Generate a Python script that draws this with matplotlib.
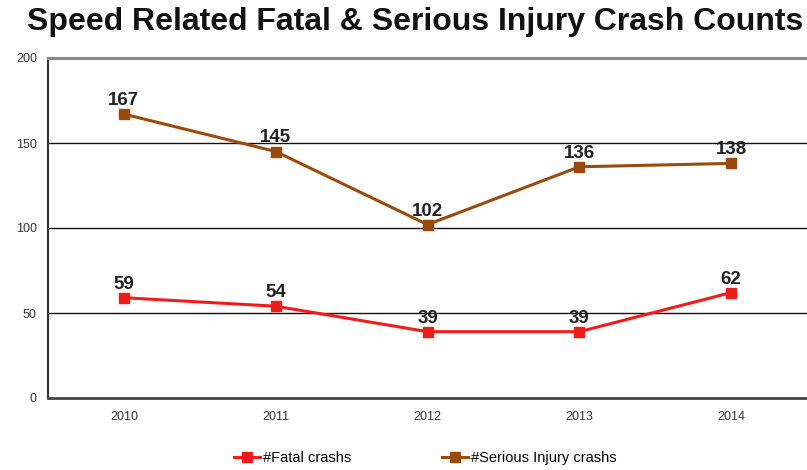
import matplotlib
matplotlib.use("Agg")
import matplotlib.pyplot as plt

years = ["2010", "2011", "2012", "2013", "2014"]
fatal = [59, 54, 39, 39, 62]
serious = [167, 145, 102, 136, 138]
y_ticks = [0, 50, 100, 150, 200]

FATAL_COLOR = "#f01c1c"
SERIOUS_COLOR = "#9a4a0c"

plt.rcParams["font.family"] = ["Liberation Sans", "DejaVu Sans"]

fig = plt.figure(figsize=(8.07, 4.70), dpi=100)
ax = fig.add_axes([48 / 807, 72 / 470, 759 / 807, 340 / 470])

xs = list(range(len(years)))
ax.plot(xs, fatal, color=FATAL_COLOR, linewidth=2.2, marker="s", markersize=7.5,
        label="#Fatal crashs", zorder=3)
ax.plot(xs, serious, color=SERIOUS_COLOR, linewidth=2.2, marker="s", markersize=7.5,
        label="#Serious Injury crashs", zorder=3)

for x, v in zip(xs, fatal):
    ax.text(x, v + 3, str(v), ha="center", va="bottom", fontsize=13.5,
            fontweight="bold", color="#222222", zorder=4)
for x, v in zip(xs, serious):
    ax.text(x, v + 3, str(v), ha="center", va="bottom", fontsize=13.5,
            fontweight="bold", color="#222222", zorder=4)

ax.set_xlim(-0.5, len(years) - 0.5)
ax.set_ylim(0, 200)
ax.set_yticks(y_ticks)
ax.set_xticks(xs)
ax.set_xticklabels(years)
ax.tick_params(axis="both", length=0, labelsize=9, colors="#333333")
ax.tick_params(axis="x", pad=9)
ax.tick_params(axis="y", pad=8)

for t in y_ticks[1:-1]:
    ax.axhline(t, color="#111111", linewidth=1.0, zorder=1)

ax.spines["top"].set_color("#888888")
ax.spines["top"].set_linewidth(2.2)
ax.spines["right"].set_visible(False)
ax.spines["left"].set_color("#333333")
ax.spines["left"].set_linewidth(1.5)
ax.spines["bottom"].set_color("#444444")
ax.spines["bottom"].set_linewidth(2)

fig.text(0.515, 0.953, "Speed Related Fatal & Serious Injury Crash Counts",
         ha="center", va="center", fontsize=23, fontweight="bold", color="#111111")

fig.legend(loc="center", bbox_to_anchor=(0.527, 0.026), ncol=2, frameon=False,
           fontsize=10.5, handlelength=1.8, handletextpad=0.2, columnspacing=6.2,
           markerscale=0.9)

fig.savefig("out.png", dpi=100, facecolor="white")
